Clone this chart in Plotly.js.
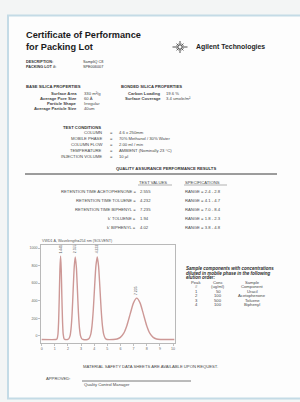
<!DOCTYPE html>
<html><head><meta charset="utf-8">
<script src="https://cdn.plot.ly/plotly-3.0.1.min.js"></script>
<style>html,body{margin:0;padding:0;background:#f3f5f5;} #chart{width:300px;height:402px;}</style>
</head><body><div id="chart"></div>
<script>
// ---- chromatogram data ----
const retentionTime = [0, 1.09, 1.17, 1.24, 1.29, 1.34, 1.39, 1.441, 1.49, 1.54, 1.59, 1.64, 1.71, 1.79,
  1.96, 2.06, 2.16, 2.24, 2.32, 2.40, 2.48, 2.555, 2.64, 2.72, 2.80, 2.88, 2.96, 3.06, 3.16,
  3.48, 3.61, 3.73, 3.83, 3.93, 4.03, 4.13, 4.232, 4.33, 4.43, 4.53, 4.63, 4.73, 4.85, 4.98,
  5.44, 5.74, 5.99, 6.24, 6.49, 6.74, 6.99, 7.235, 7.49, 7.74, 7.99, 8.24, 8.49, 8.74, 9.04, 10.1];
const signal = [-40, -40, -33, 20, 160, 435, 758, 910, 758, 435, 160, 20, -33, -40,
  -40, -33, 1, 87, 261, 533, 787, 900, 787, 533, 261, 87, 1, -33, -40,
  -40, -28, 15, 112, 298, 560, 797, 900, 797, 560, 298, 112, 15, -28, -40,
  -40, -34, -16, 29, 120, 251, 377, 430, 377, 251, 120, 29, -16, -34, -40, -40];
const peakTimes = [1.441, 2.555, 4.232, 7.235];
const peakLabels = ['1.441', '2.555', '4.232', '7.235'];
const peakLabelLevel = [990, 990, 990, 520];
const xTickVals = [0, 1, 2, 3, 4, 5, 6, 7, 8, 9, 10];
const yTickVals = [0, 200, 400, 600, 800, 1000];

// ---- document text ----
const baseLabels = ['Surface Area', 'Average Pore Size', 'Particle Shape', 'Average Particle Size'];
const baseValues = ['330 m²/g', '60 Å', 'Irregular', '40um'];
const bondedLabels = ['Carbon Loading', 'Surface Coverage'];
const bondedValues = ['19.6 %', '3.4 umole/m²'];
const condLabels = ['COLUMN', 'MOBILE PHASE', 'COLUMN FLOW', 'TEMPERATURE', 'INJECTION VOLUME'];
const condValues = ['4.6 x 250mm', '70% Methanol / 30% Water', '2.00 ml / min', 'AMBIENT (Nominally 23 °C)', '10 µl'];
const qaTests = ['RETENTION TIME ACETOPHENONE =', 'RETENTION TIME TOLUENE =', 'RETENTION TIME BIPHENYL =', "k' TOLUENE =", "k' BIPHENYL ="];
const qaValues = ['2.555', '4.232', '7.235', '1.94', '4.02'];
const qaSpecs = ['RANGE = 2.4 - 2.8', 'RANGE = 4.1 - 4.7', 'RANGE = 7.0 - 8.4', 'RANGE = 1.8 - 2.3', 'RANGE = 3.8 - 4.8'];
const samplePeak = ['1', '2', '3', '4'];
const sampleConc = ['50', '100', '500', '100'];
const sampleName = ['Uracil', 'Acetophenone', 'Toluene', 'Biphenyl'];

const W = 300, H = 402;
const px = x => x / W, py = y => 1 - y / H;
const FF = '"Liberation Sans", Arial, sans-serif';
const ann = [];
function T(text, x, y, size, opt) {
  opt = opt || {};
  ann.push({text: text, xref: 'paper', yref: 'paper', x: px(x), y: py(y),
    xanchor: opt.anchor || 'left', yanchor: 'middle', showarrow: false, borderpad: 0,
    font: {family: FF, size: size, color: opt.color || '#474747', weight: opt.bold ? 700 : 400, style: opt.italic ? 'italic' : 'normal'}});
}
const S = 4.2;
T('Certificate of Performance', 24.5, 35, 9.2, {bold: true, color: '#1b1b1b'});
T('for Packing Lot', 24.5, 47.5, 9.2, {bold: true, color: '#1b1b1b'});
T('Agilent Technologies', 194.5, 47, 6.9, {bold: true, color: '#1f1f1f'});
T('DESCRIPTION:', 25, 62, 3.8, {bold: true, color: '#333'});
T('PACKING LOT #:', 25, 67, 3.8, {bold: true, color: '#333'});
T('SampliQ C8', 82, 62, 3.8, {color: '#333'});
T('SPE006007', 82, 67, 3.8, {color: '#333'});

T('BASE SILICA PROPERTIES', 25, 87, S, {bold: true, color: '#333'});
baseLabels.forEach((t, i) => { T(t, 78, 93 + i * 5, S, {anchor: 'right', bold: true, color: '#444'}); T(baseValues[i], 83, 93 + i * 5, S); });
T('BONDED SILICA PROPERTIES', 120, 87, S, {bold: true, color: '#333'});
bondedLabels.forEach((t, i) => { T(t, 162, 93 + i * 5, S, {anchor: 'right', bold: true, color: '#444'}); T(bondedValues[i], 165, 93 + i * 5, S); });

T('TEST CONDITIONS', 62, 127, S, {bold: true, color: '#333'});
condLabels.forEach((t, i) => { const y = 132 + i * 6.2; T(t, 103, y, S, {anchor: 'right'}); T('=', 108.5, y, S); T(condValues[i], 118, y, S); });

T('QUALITY ASSURANCE PERFORMANCE RESULTS', 165.5, 169, S, {anchor: 'center', bold: true, color: '#333'});
T('TEST VALUES', 138, 182, S);
T('SPECIFICATIONS', 184, 182, S);
qaTests.forEach((t, i) => { const y = 191.5 + i * 8.9; T(t, 136.5, y, S, {anchor: 'right'}); T(qaValues[i], 139, y, S); T(qaSpecs[i], 184, y, S); });

T('VWD1 A, Wavelength=254 nm (SOLVENT)', 40.5, 241, 3.7, {color: '#555'});

T('Sample components with concentrations', 184.5, 268.5, 4.5, {bold: true, italic: true, color: '#2a2a2a'});
T('diluted in mobile phase in the following', 184.5, 273, 4.5, {bold: true, italic: true, color: '#2a2a2a'});
T('elution order:', 184.5, 277.5, 4.5, {bold: true, italic: true, color: '#2a2a2a'});
T('Peak', 196, 282, S, {anchor: 'center'}); T('Conc', 218, 282, S, {anchor: 'center'}); T('Sample', 252, 282, S, {anchor: 'center'});
T('#', 196, 286.5, S, {anchor: 'center'}); T('(ug/ml)', 218, 286.5, S, {anchor: 'center'}); T('Component', 252, 286.5, S, {anchor: 'center'});
samplePeak.forEach((p, i) => { const y = 291 + i * 4.5; T(p, 196, y, S, {anchor: 'center'}); T(sampleConc[i], 218, y, S, {anchor: 'center'}); T(sampleName[i], 252, y, S, {anchor: 'center'}); });

T('MATERIAL SAFETY DATA SHEETS ARE AVAILABLE UPON REQUEST.', 82, 366, S);
T('APPROVED:', 45, 378, S);
T('Quality Control Manager', 83, 384, S);

// peak labels (data coordinates)
peakTimes.forEach((t, i) => ann.push({text: peakLabels[i], xref: 'x', yref: 'y', x: t, y: peakLabelLevel[i], textangle: -90,
  showarrow: false, borderpad: 0, font: {family: FF, size: 3.4, color: '#555'}}));

const L = (x0, y0, x1, y1, c, w) => ({type: 'line', xref: 'paper', yref: 'paper', x0: px(x0), y0: py(y0), x1: px(x1), y1: py(y1), line: {color: c, width: w}});
const shapes = [
  {type: 'rect', layer: 'below', xref: 'paper', yref: 'paper', x0: px(8), y0: py(398.5), x1: px(306), y1: py(15.5), fillcolor: '#fdfdfd', line: {color: '#c4dbe6', width: 2}},
  L(25, 174, 277, 174, '#3a3a3a', 1),
  L(138, 185, 172, 185, '#666', 0.5),
  L(184, 185, 227, 185, '#666', 0.5),
  L(82, 381, 191, 381, '#555', 0.8),
  {type: 'circle', xref: 'paper', yref: 'paper', x0: px(177.8), y0: py(49.2), x1: px(182.2), y1: py(44.8), line: {color: '#222', width: 0.9}}
];
// Agilent spark rays
[[0, 7.5], [90, 6], [180, 7.5], [270, 6], [45, 4.8], [135, 4.8], [225, 4.8], [315, 4.8], [22, 3.8], [158, 3.8], [202, 3.8], [338, 3.8], [68, 3.6], [112, 3.6], [248, 3.6], [292, 3.6]].forEach(r => {
  const a = r[0] * Math.PI / 180;
  shapes.push(L(180 + 2.9 * Math.cos(a), 47 - 2.9 * Math.sin(a), 180 + r[1] * Math.cos(a), 47 - r[1] * Math.sin(a), '#222', 0.8));
});

const axisCommon = {showgrid: false, zeroline: false, showline: true, mirror: true, linecolor: '#a8a8a8', linewidth: 0.8,
  ticks: 'outside', ticklen: 2, tickwidth: 0.6, tickcolor: '#999', tickfont: {family: FF, size: 3.6, color: '#666'}, fixedrange: true};

const data = [{x: retentionTime, y: signal, type: 'scatter', mode: 'lines', line: {color: '#cd9896', width: 1.4, shape: 'spline', smoothing: 0.6}, hoverinfo: 'skip'}];
const layout = {
  width: W, height: H, margin: {l: 0, r: 0, t: 0, b: 0},
  paper_bgcolor: '#f3f5f5', plot_bgcolor: 'rgba(0,0,0,0)', showlegend: false,
  xaxis: Object.assign({}, axisCommon, {domain: [px(41), px(175)], range: [-0.05, 10.15], tickvals: xTickVals}),
  yaxis: Object.assign({}, axisCommon, {domain: [py(343), py(245)], range: [-80, 1035], tickvals: yTickVals}),
  annotations: ann, shapes: shapes
};
Plotly.newPlot('chart', data, layout, {displayModeBar: false, staticPlot: true});
</script></body></html>
